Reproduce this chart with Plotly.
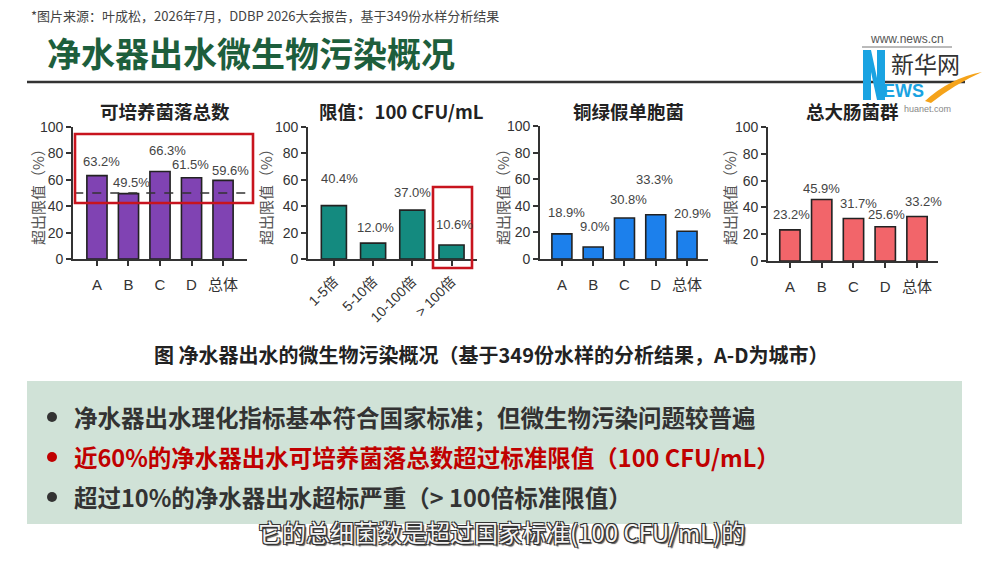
import plotly.graph_objects as go

W, H = 1000, 563

# ---------------- data ----------------
cities = ["A", "B", "C", "D", "总体"]
hpc_values = [63.2, 49.5, 66.3, 61.5, 59.6]          # 可培养菌落总数
exceed_levels = ["1-5倍", "5-10倍", "10-100倍", "> 100倍"]
exceed_values = [40.4, 12.0, 37.0, 10.6]              # 限值 100 CFU/mL
pa_values = [18.9, 9.0, 30.8, 33.3, 20.9]             # 铜绿假单胞菌
tc_values = [23.2, 45.9, 31.7, 25.6, 33.2]            # 总大肠菌群
y_ticks = [0, 20, 40, 60, 80, 100]
hpc_reference = 50

panel_titles = ["可培养菌落总数", "限值：100 CFU/mL", "铜绿假单胞菌", "总大肠菌群"]
y_title = "超出限值（%）"
source_text = "*图片来源：叶成松，2026年7月，DDBP 2026大会报告，基于349份水样分析结果"
main_title = "净水器出水微生物污染概况"
caption = "图 净水器出水的微生物污染概况（基于349份水样的分析结果，A-D为城市）"
bullets = [
    "净水器出水理化指标基本符合国家标准；但微生物污染问题较普遍",
    "近60%的净水器出水可培养菌落总数超过标准限值（100 CFU/mL）",
    "超过10%的净水器出水超标严重（> 100倍标准限值）",
]
subtitle = "它的总细菌数是超过国家标准(100 CFU/mL)的"

# ---------------- layout helpers ----------------
def px(p):
    return p / W

def py(p):
    return 1 - p / H

CJK = "Noto Sans CJK SC"
NUM = "Liberation Sans, Noto Sans CJK SC"


def note(x, y, text, font, xanchor="center", yanchor="middle", **kw):
    return dict(x=px(x), y=py(y), xref="paper", yref="paper", text=text,
                showarrow=False, xanchor=xanchor, yanchor=yanchor, font=font, **kw)


panels = [
    dict(cats=cities, vals=hpc_values, color="#8043b3",
         xpx=(73, 247), ypx=(127, 259), xr=(-0.76, 4.76),
         shift=[14, 11, 21, 13, 10], dx=[5, 3, 7, -1, 7],
         title_x=165, ytitle_x=37, angle=0),
    dict(cats=exceed_levels, vals=exceed_values, color="#148a7f",
         xpx=(308, 477), ypx=(127, 259), xr=(-0.66, 3.65),
         shift=[27, 16, 18, 21], dx=[6, 2, 0, 3],
         title_x=401, ytitle_x=265, angle=-45),
    dict(cats=cities, vals=pa_values, color="#1c80ec",
         xpx=(540, 708), ypx=(126, 259), xr=(-0.70, 4.67),
         shift=[21, 21, 19, 35, 18], dx=[5, 2, 4, -1, 5],
         title_x=628, ytitle_x=502, angle=0),
    dict(cats=cities, vals=tc_values, color="#f2656a",
         xpx=(768, 938), ypx=(127, 261), xr=(-0.69, 4.66),
         shift=[15, 11, 15, 12, 15], dx=[2, 0, 5, 1, 6],
         title_x=852, ytitle_x=729, angle=0),
]

fig = go.Figure()
annotations = []
shapes = []

for i, p in enumerate(panels):
    n = "" if i == 0 else str(i + 1)
    xa, ya = "x" + n, "y" + n
    fig.add_trace(go.Bar(
        x=p["cats"], y=p["vals"], xaxis=xa, yaxis=ya,
        marker=dict(color=p["color"], line=dict(color="#222222", width=1.6)),
        width=0.64, showlegend=False, hoverinfo="x+y",
    ))
    axis_common = dict(showline=True, linecolor="#333333", linewidth=1.6,
                       ticks="outside", ticklen=5, tickwidth=1.6, tickcolor="#333333",
                       showgrid=False, zeroline=False, automargin=False)
    fig.update_layout(**{
        ("xaxis" + n): dict(domain=[px(p["xpx"][0]), px(p["xpx"][1])],
                            anchor=ya, range=list(p["xr"]), type="category",
                            tickangle=p["angle"], ticklabelstandoff=6 if p["angle"] == 0 else 2,
                            tickfont=dict(family=NUM, size=15 if p["angle"] == 0 else 14,
                                          color="#333333"),
                            **axis_common),
        ("yaxis" + n): dict(domain=[py(p["ypx"][1]), py(p["ypx"][0])],
                            anchor=xa, range=[0, 100], tickvals=y_ticks,
                            tickfont=dict(family=NUM, size=14, color="#333333"),
                            **axis_common),
    })
    # value labels
    for c, v, s, d in zip(p["cats"], p["vals"], p["shift"], p["dx"]):
        annotations.append(dict(x=c, y=v, xref=xa, yref=ya, text=f"{v:.1f}%",
                                showarrow=False, yshift=s, xshift=d,
                                xanchor="center", yanchor="middle",
                                font=dict(family=NUM, size=13, color="#444444")))
    # panel title
    annotations.append(note(p["title_x"], 111, panel_titles[i],
                            dict(family=CJK, size=18.5, color="#222222", weight="bold")))
    # y-axis title
    annotations.append(note(p["ytitle_x"], 193, y_title,
                            dict(family=CJK, size=15, color="#555555"), textangle=-90))

# reference dashed line (panel 1)
shapes.append(dict(type="line", xref="x", yref="y", x0=-0.72, x1=4.72,
                   y0=hpc_reference, y1=hpc_reference,
                   line=dict(color="#333333", width=1.3, dash="dash")))

# red highlight boxes
shapes.append(dict(type="rect", xref="paper", yref="paper",
                   x0=px(75), x1=px(253), y0=py(203), y1=py(134),
                   line=dict(color="#c8141e", width=2.6), layer="above"))
shapes.append(dict(type="rect", xref="paper", yref="paper",
                   x0=px(433), x1=px(472), y0=py(268), y1=py(187),
                   line=dict(color="#c8141e", width=2.6), layer="above"))

# header
annotations.append(note(29, 15, source_text,
                        dict(family=CJK, size=13, color="#444444"), xanchor="left"))
annotations.append(note(45, 52, main_title,
                        dict(family=CJK, size=34, color="#1d5e3c", weight="bold"),
                        xanchor="left"))
shapes.append(dict(type="line", xref="paper", yref="paper", x0=px(27), x1=px(965),
                   y0=py(82), y1=py(82), line=dict(color="#333333", width=2.5)))

# logo (decoration)
logo_n = [(863, 100), (863, 50), (871, 50), (877, 78), (877, 50), (885, 50),
          (885, 100), (877, 100), (871, 72), (871, 100)]
shapes.append(dict(type="path", xref="paper", yref="paper", fillcolor="#1aa3e2",
                   line=dict(width=0),
                   path="M " + " L ".join(f"{px(a)} {py(b)}" for a, b in logo_n) + " Z"))
shapes.append(dict(type="path", xref="paper", yref="paper", fillcolor="#f5a31a",
                   line=dict(width=0),
                   path="M {} {} Q {} {} {} {} Q {} {} {} {} Z".format(
                       px(925), py(101), px(950), py(78), px(982), py(72),
                       px(955), py(84), px(931), py(103))))
annotations.append(note(907, 39, "www.news.cn",
                        dict(family="Liberation Sans", size=12, color="#555555")))
shapes.append(dict(type="line", xref="paper", yref="paper", x0=px(862), x1=px(952),
                   y0=py(47), y1=py(47), line=dict(color="#777777", width=1)))
annotations.append(note(925, 63, "新华网",
                        dict(family=CJK, size=23, color="#333333")))
annotations.append(note(903, 91, "EWS",
                        dict(family="Liberation Sans Narrow, Liberation Sans",
                             size=18, color="#1aa3e2", weight="bold")))
annotations.append(note(927, 109, "huanet.com",
                        dict(family="Liberation Sans", size=9, color="#888888")))

# caption
annotations.append(note(491, 354, caption,
                        dict(family=CJK, size=20, color="#222222", weight="bold")))

# bullet box
shapes.append(dict(type="rect", xref="paper", yref="paper", layer="below",
                   x0=px(27), x1=px(962), y0=py(524), y1=py(381),
                   fillcolor="#d0e2d7", line=dict(width=0)))
bullet_colors = ["#333333", "#c00000", "#333333"]
bullet_y = [417, 457, 497]
for t, c, yy in zip(bullets, bullet_colors, bullet_y):
    shapes.append(dict(type="circle", xref="paper", yref="paper",
                       x0=px(47), x1=px(57), y0=py(yy + 5), y1=py(yy - 5),
                       fillcolor=c, line=dict(width=0)))
    annotations.append(note(72, yy, t, dict(family=CJK, size=23.5, color=c, weight="bold"),
                            xanchor="left"))

# video subtitle
annotations.append(note(501, 531, subtitle,
                        dict(family=CJK, size=24, color="#f4f4f4",
                             shadow="-1px -1px 0 #333, 1px -1px 0 #333, -1px 1px 0 #333, "
                                    "1px 1px 0 #333, 2px 2px 1px #555")))

fig.update_layout(width=W, height=H, margin=dict(l=0, r=0, t=0, b=0, autoexpand=False),
                  paper_bgcolor="white", plot_bgcolor="rgba(0,0,0,0)",
                  annotations=annotations, shapes=shapes, bargap=0.3, showlegend=False)

fig.write_html("out.html")
